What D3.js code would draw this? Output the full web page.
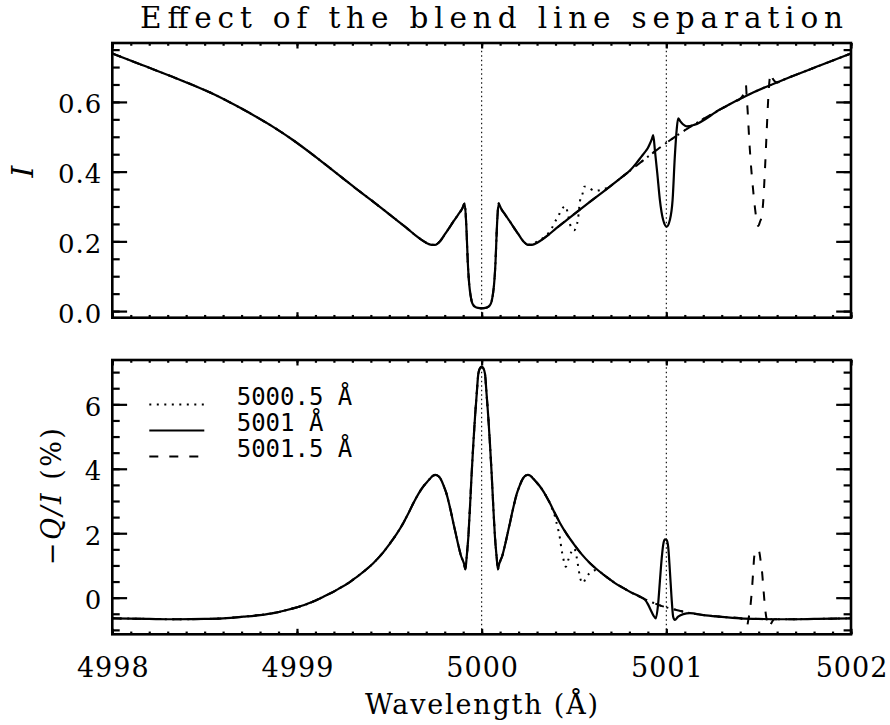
<!DOCTYPE html>
<html lang="en">
<head>
<meta charset="UTF-8">
<title>Effect of the blend line separation</title>
<script src="https://d3js.org/d3.v7.min.js"></script>
<style>
    body { margin: 0; padding: 0; background: #fff; }
    svg { display: block; }
</style>
</head>
<body>
<svg width="890" height="725"></svg>
<script>
// ---- data ----
const xTicks = [4998, 4999, 5000, 5001, 5002];
const xTickLabels = ["4998", "4999", "5000", "5001", "5002"];
const iTicks = [0, 0.2, 0.4, 0.6];
const iTickLabels = ["0.0", "0.2", "0.4", "0.6"];
const qTicks = [0, 2, 4, 6];
const qTickLabels = ["0", "2", "4", "6"];
const markers = [5000, 5001];
const legendNames = ["5000.5 Å", "5001 Å", "5001.5 Å"];

// common intensity profile (no blend)
const baseI = [
    [4998.000, 0.739], [4998.165, 0.705], [4998.345, 0.668], [4998.530, 0.627], [4998.710, 0.578],
    [4998.890, 0.522], [4998.980, 0.490], [4999.062, 0.458], [4999.143, 0.425], [4999.251, 0.380],
    [4999.323, 0.350], [4999.400, 0.319], [4999.468, 0.291], [4999.540, 0.261], [4999.597, 0.237],
    [4999.640, 0.218], [4999.684, 0.201], [4999.710, 0.193], [4999.730, 0.190], [4999.747, 0.190],
    [4999.760, 0.193], [4999.774, 0.200], [4999.788, 0.210], [4999.803, 0.222], [4999.820, 0.235],
    [4999.837, 0.249], [4999.855, 0.263], [4999.873, 0.277], [4999.895, 0.294], [4999.908, 0.309],
    [4999.917, 0.245], [4999.925, 0.140], [4999.933, 0.075], [4999.940, 0.045], [4999.946, 0.028],
    [4999.955, 0.017], [4999.965, 0.012], [4999.980, 0.009], [5000.000, 0.008], [5000.020, 0.009],
    [5000.035, 0.012], [5000.045, 0.017], [5000.054, 0.028], [5000.060, 0.045], [5000.067, 0.075],
    [5000.075, 0.140], [5000.083, 0.245], [5000.092, 0.309], [5000.105, 0.294], [5000.127, 0.277],
    [5000.145, 0.263], [5000.163, 0.249], [5000.180, 0.235], [5000.197, 0.222], [5000.212, 0.210],
    [5000.226, 0.200], [5000.240, 0.193], [5000.253, 0.190], [5000.270, 0.190], [5000.290, 0.193],
    [5000.316, 0.201], [5000.360, 0.218], [5000.403, 0.237], [5000.460, 0.261], [5000.532, 0.291],
    [5000.600, 0.319], [5000.677, 0.350], [5000.749, 0.380], [5000.857, 0.425], [5000.938, 0.458],
    [5001.020, 0.490], [5001.110, 0.522], [5001.290, 0.578], [5001.470, 0.627], [5001.655, 0.668],
    [5001.835, 0.705], [5002.000, 0.739]
];

// common -Q/I profile (no blend)
const baseQ = [
    [4998.000, -0.64], [4998.200, -0.66], [4998.350, -0.67], [4998.500, -0.66], [4998.600, -0.64],
    [4998.710, -0.59], [4998.800, -0.54], [4998.880, -0.47], [4998.940, -0.39], [4999.000, -0.30],
    [4999.040, -0.23], [4999.075, -0.15], [4999.115, -0.05], [4999.143, 0.03], [4999.190, 0.16],
    [4999.233, 0.30], [4999.280, 0.46], [4999.323, 0.64], [4999.370, 0.85], [4999.413, 1.07],
    [4999.460, 1.36], [4999.503, 1.68], [4999.540, 1.98], [4999.576, 2.32], [4999.600, 2.58],
    [4999.630, 2.93], [4999.666, 3.30], [4999.684, 3.45], [4999.700, 3.56], [4999.720, 3.69],
    [4999.735, 3.78], [4999.750, 3.81], [4999.768, 3.76], [4999.783, 3.63], [4999.795, 3.46],
    [4999.810, 3.22], [4999.820, 3.00], [4999.837, 2.58], [4999.847, 2.31], [4999.860, 1.98],
    [4999.870, 1.72], [4999.880, 1.48], [4999.888, 1.30], [4999.897, 1.17], [4999.905, 1.05],
    [4999.912, 0.88], [4999.919, 1.27], [4999.928, 1.89], [4999.937, 2.83], [4999.946, 3.86],
    [4999.955, 4.78], [4999.964, 5.60], [4999.973, 6.30], [4999.982, 6.95], [4999.991, 7.12],
    [5000.000, 7.17], [5000.009, 7.12], [5000.018, 6.95], [5000.027, 6.30], [5000.036, 5.60],
    [5000.045, 4.78], [5000.054, 3.86], [5000.063, 2.83], [5000.072, 1.89], [5000.081, 1.27],
    [5000.088, 0.88], [5000.095, 1.05], [5000.103, 1.17], [5000.112, 1.30], [5000.120, 1.48],
    [5000.130, 1.72], [5000.140, 1.98], [5000.153, 2.31], [5000.163, 2.58], [5000.180, 3.00],
    [5000.190, 3.22], [5000.205, 3.46], [5000.217, 3.63], [5000.232, 3.76], [5000.250, 3.81],
    [5000.265, 3.78], [5000.280, 3.69], [5000.300, 3.56], [5000.316, 3.45], [5000.334, 3.30],
    [5000.370, 2.93], [5000.400, 2.58], [5000.424, 2.32], [5000.460, 1.98], [5000.497, 1.68],
    [5000.540, 1.36], [5000.587, 1.07], [5000.630, 0.85], [5000.677, 0.64], [5000.720, 0.46],
    [5000.767, 0.30], [5000.810, 0.16], [5000.857, 0.03], [5000.885, -0.05], [5000.925, -0.15],
    [5000.960, -0.23], [5001.000, -0.30], [5001.060, -0.39], [5001.120, -0.47], [5001.200, -0.54],
    [5001.290, -0.59], [5001.400, -0.64], [5001.500, -0.66], [5001.650, -0.67], [5001.800, -0.66],
    [5002.000, -0.64]
];

// blend windows, intensity
const blendI_5000_5 = [
    [5000.262, 0.190], [5000.289, 0.196], [5000.316, 0.204], [5000.352, 0.218], [5000.379, 0.237],
    [5000.397, 0.256], [5000.415, 0.272], [5000.433, 0.292], [5000.456, 0.301], [5000.466, 0.280],
    [5000.483, 0.242], [5000.501, 0.232], [5000.514, 0.245], [5000.522, 0.265], [5000.532, 0.314],
    [5000.547, 0.338], [5000.555, 0.357], [5000.577, 0.354], [5000.613, 0.345], [5000.655, 0.349],
    [5000.700, 0.360]
];
const blendI_5001 = [
    [5000.803, 0.403], [5000.839, 0.425], [5000.865, 0.443], [5000.884, 0.456], [5000.900, 0.468],
    [5000.911, 0.480], [5000.922, 0.494], [5000.929, 0.505], [5000.938, 0.462], [5000.951, 0.396],
    [5000.965, 0.319], [5000.983, 0.261], [5001.002, 0.242], [5001.019, 0.261], [5001.034, 0.319],
    [5001.046, 0.443], [5001.056, 0.520], [5001.064, 0.553], [5001.075, 0.545], [5001.090, 0.536],
    [5001.110, 0.530], [5001.150, 0.534]
];
const blendI_5001_5 = [
    [5001.370, 0.600], [5001.400, 0.609], [5001.420, 0.625], [5001.431, 0.649], [5001.435, 0.616],
    [5001.440, 0.577], [5001.449, 0.491], [5001.458, 0.420], [5001.467, 0.365], [5001.476, 0.315],
    [5001.489, 0.261], [5001.498, 0.244], [5001.507, 0.256], [5001.516, 0.271], [5001.524, 0.309],
    [5001.534, 0.405], [5001.543, 0.510], [5001.552, 0.611], [5001.561, 0.673], [5001.565, 0.682],
    [5001.575, 0.668], [5001.600, 0.656]
];

// blend windows, -Q/I
const blendQ_5000_5 = [
    [5000.370, 2.93], [5000.379, 2.80], [5000.397, 2.52], [5000.406, 2.31], [5000.415, 2.10],
    [5000.424, 1.84], [5000.433, 1.48], [5000.442, 1.22], [5000.456, 0.96], [5000.469, 1.17],
    [5000.487, 1.43], [5000.501, 1.53], [5000.514, 1.27], [5000.523, 0.96], [5000.532, 0.65],
    [5000.547, 0.45], [5000.568, 0.65], [5000.596, 0.81], [5000.623, 0.86], [5000.650, 0.76],
    [5000.677, 0.64]
];
const blendQ_5001 = [
    [5000.810, 0.16], [5000.857, 0.03], [5000.885, -0.07], [5000.900, -0.20], [5000.911, -0.33],
    [5000.929, -0.54], [5000.943, -0.64], [5000.956, -0.17], [5000.965, 0.50], [5000.975, 1.22],
    [5000.983, 1.64], [5000.992, 1.81], [5001.001, 1.79], [5001.010, 1.58], [5001.019, 0.86],
    [5001.028, 0.03], [5001.037, -0.59], [5001.046, -0.69], [5001.064, -0.59], [5001.092, -0.51],
    [5001.128, -0.48]
];
const blendQ_5001_5 = [
    [5001.400, -0.64], [5001.420, -0.72], [5001.430, -0.85], [5001.436, -0.90], [5001.444, -0.69],
    [5001.453, -0.38], [5001.462, 0.14], [5001.471, 0.86], [5001.476, 1.27], [5001.485, 1.48],
    [5001.495, 1.50], [5001.503, 1.43], [5001.510, 1.17], [5001.519, 0.76], [5001.525, 0.34],
    [5001.534, -0.28], [5001.548, -0.80], [5001.558, -0.92], [5001.568, -0.80], [5001.585, -0.67],
    [5001.650, -0.67]
];

// ---- layout ----
const svg = d3.select("svg");
const serif = "'DejaVu Serif', serif";

const x = d3.scaleLinear().domain([4998, 5002]).range([112.3, 851]);
const yTop = d3.scaleLinear().domain([-0.019, 0.769]).range([317.7, 43]);
const yBot = d3.scaleLinear().domain([-1.137, 7.376]).range([634.3, 360]);

// base profile with the blend window swapped in
function withBlend(base, blend) {
    const lo = blend[0][0], hi = blend[blend.length - 1][0];
    return base.filter(d => d[0] < lo)
        .concat(blend)
        .concat(base.filter(d => d[0] > hi));
}

const dashes = ["2,5.5", null, "9,11"];   // 5000.5 dotted, 5001 solid, 5001.5 dashed

function drawPanel(y, base, blends, yMajor, yLabels, yMinorCount, showX) {
    const g = svg.append("g");
    const x0 = x.range()[0], x1 = x.range()[1];
    const yb = y.range()[0], yt = y.range()[1];

    // vertical markers
    g.selectAll(".marker")
        .data(markers)
        .enter().append("line")
        .attr("x1", d => x(d)).attr("x2", d => x(d))
        .attr("y1", yb).attr("y2", yt)
        .attr("stroke", "#000")
        .attr("stroke-width", 1.1)
        .attr("stroke-dasharray", "1.5,3");

    const line = d3.line()
        .x(d => x(d[0]))
        .y(d => y(d[1]))
        .curve(d3.curveMonotoneX);

    // dashed first, then dotted, solid last on top
    [2, 0, 1].forEach(k => {
        g.append("path")
            .datum(withBlend(base, blends[k]))
            .attr("d", line)
            .attr("fill", "none")
            .attr("stroke", "#000")
            .attr("stroke-width", k === 1 ? 2.2 : 2)
            .attr("stroke-dasharray", dashes[k]);
    });

    // minor / major ticks on all four sides
    const xMinor = x.ticks(40);
    const yMinor = y.ticks(yMinorCount);

    g.append("g").attr("transform", `translate(0,${yb})`)
        .call(d3.axisBottom(x).tickValues(xMinor).tickSize(-2.75).tickFormat(""));
    const bottomMajor = g.append("g").attr("transform", `translate(0,${yb})`)
        .call(d3.axisBottom(x).tickValues(xTicks).tickSize(-5.5)
            .tickFormat((d, i) => showX ? xTickLabels[i] : ""));

    g.append("g").attr("transform", `translate(0,${yt})`)
        .call(d3.axisTop(x).tickValues(xMinor).tickSize(-2.75).tickFormat(""));
    g.append("g").attr("transform", `translate(0,${yt})`)
        .call(d3.axisTop(x).tickValues(xTicks).tickSize(-5.5).tickFormat(""));

    g.append("g").attr("transform", `translate(${x0},0)`)
        .call(d3.axisLeft(y).tickValues(yMinor).tickSize(-7.4).tickFormat(""));
    const leftMajor = g.append("g").attr("transform", `translate(${x0},0)`)
        .call(d3.axisLeft(y).tickValues(yMajor).tickSize(-14.8)
            .tickFormat((d, i) => yLabels[i]));

    g.append("g").attr("transform", `translate(${x1},0)`)
        .call(d3.axisRight(y).tickValues(yMinor).tickSize(-7.4).tickFormat(""));
    g.append("g").attr("transform", `translate(${x1},0)`)
        .call(d3.axisRight(y).tickValues(yMajor).tickSize(-14.8).tickFormat(""));

    g.selectAll(".domain").remove();
    g.selectAll(".tick line").attr("stroke-width", 2.2);

    leftMajor.selectAll("text")
        .attr("x", -10).attr("dy", null).attr("y", 11)
        .style("font-family", serif).style("font-size", "26px")
        .style("letter-spacing", "1px");

    if (showX) {
        bottomMajor.selectAll("text")
            .attr("dy", null).attr("y", 42.4).attr("dx", 0.5)
            .style("font-family", serif).style("font-size", "27px")
            .style("letter-spacing", "1px");
    }

    // frame
    g.append("rect")
        .attr("x", x0).attr("y", yt)
        .attr("width", x1 - x0).attr("height", yb - yt)
        .attr("fill", "none").attr("stroke", "#000").attr("stroke-width", 2.6);
    return g;
}

drawPanel(yTop, baseI, [blendI_5000_5, blendI_5001, blendI_5001_5], iTicks, iTickLabels, 16, false);
drawPanel(yBot, baseQ, [blendQ_5000_5, blendQ_5001, blendQ_5001_5], qTicks, qTickLabels, 17, true);

// title
svg.append("text")
    .attr("x", 491.5).attr("y", 28.3)
    .attr("text-anchor", "middle")
    .attr("textLength", 703)
    .style("font-family", serif).style("font-size", "29.5px")
    .text("Effect of the blend line separation");

// axis titles
svg.append("text")
    .attr("transform", "translate(33,171.7) rotate(-90)")
    .attr("text-anchor", "middle")
    .style("font-family", serif).style("font-size", "30px").style("font-style", "italic")
    .text("I");

const qTitle = svg.append("text")
    .attr("transform", "translate(61,496.7) rotate(-90)")
    .attr("text-anchor", "middle")
    .attr("textLength", 137)
    .style("font-family", serif).style("font-size", "27px");
qTitle.append("tspan").text("\u2212");
qTitle.append("tspan").style("font-style", "italic").text("Q/I");
qTitle.append("tspan").text(" (%)");

svg.append("text")
    .attr("x", 481.5).attr("y", 714)
    .attr("text-anchor", "middle")
    .attr("textLength", 233)
    .style("font-family", serif).style("font-size", "27px")
    .text("Wavelength (Å)");

// legend
const legendY = d3.scalePoint().domain(legendNames).range([404.5, 456.5]);
const legend = svg.append("g");
legendNames.forEach((name, i) => {
    legend.append("line")
        .attr("x1", 149.3).attr("x2", 204.3)
        .attr("y1", legendY(name)).attr("y2", legendY(name))
        .attr("stroke", "#000")
        .attr("stroke-width", 2)
        .attr("stroke-dasharray", dashes[i]);
    legend.append("text")
        .attr("x", 236.7).attr("y", legendY(name) + 0.5)
        .style("font-family", "'DejaVu Sans Mono', monospace")
        .style("font-size", "24px")
        .text(name);
});
</script>
</body>
</html>
